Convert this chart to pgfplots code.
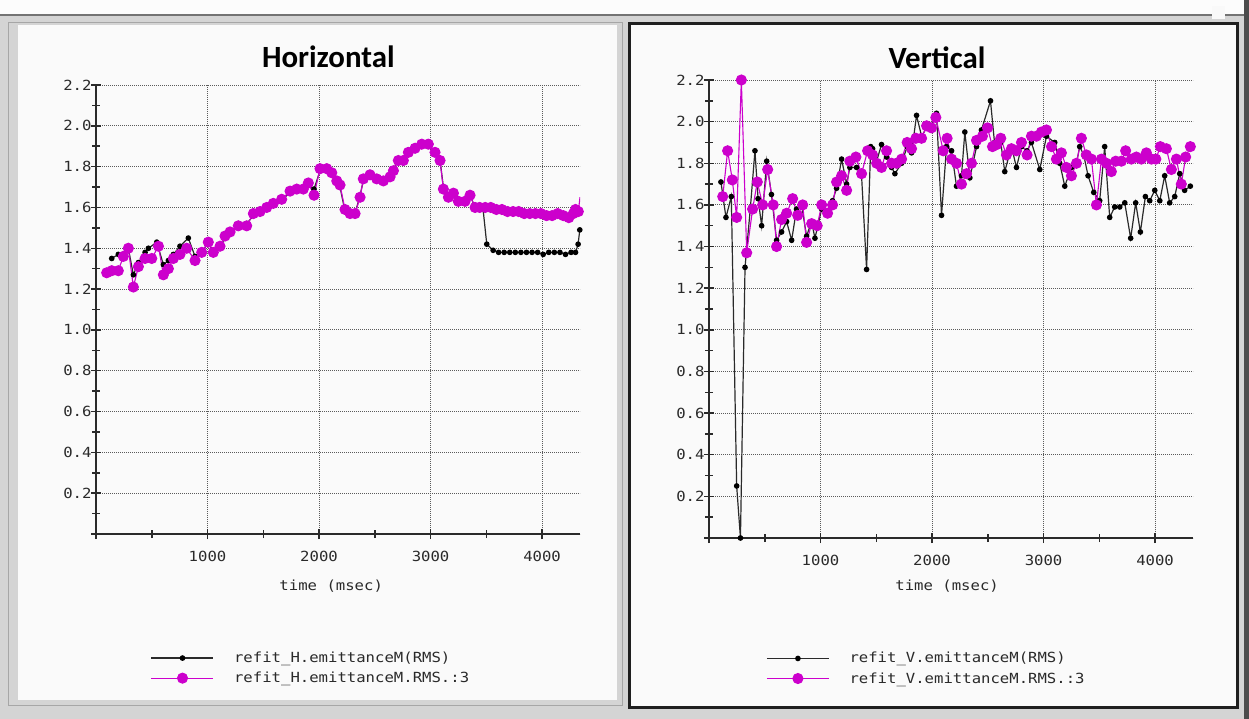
\documentclass[border=0pt]{standalone}
\usepackage{fontspec}
\setmainfont{Carlito}
\newfontfamily\monofont{DejaVu Sans Mono}[FakeStretch=1.12]
\usepackage{pgfplots}
\usepackage{pgfplotstable}
\pgfplotsset{compat=1.18}

\definecolor{frame}{HTML}{D4D4D4}
\definecolor{mag}{HTML}{CC00CC}
\definecolor{ink}{HTML}{2A2A2A}
\definecolor{gridc}{HTML}{5A5A5A}

% Horizontal plane: raw emittance
\pgfplotstableread{
t e
141 1.35
200 1.37
245 1.37
290 1.40
335 1.27
380 1.33
440 1.38
470 1.40
545 1.43
604 1.32
649 1.34
694 1.37
753 1.41
828 1.45
888 1.36
948 1.39
1007 1.42
1052 1.39
1112 1.41
1157 1.45
1202 1.48
1276 1.50
1351 1.52
1411 1.56
1471 1.58
1531 1.60
1590 1.62
1665 1.64
1740 1.67
1800 1.69
1859 1.70
1904 1.71
1955 1.69
2009 1.78
2069 1.79
2114 1.77
2159 1.72
2188 1.70
2233 1.58
2278 1.57
2323 1.57
2368 1.66
2397 1.73
2457 1.75
2517 1.73
2577 1.73
2637 1.76
2667 1.79
2711 1.83
2756 1.84
2801 1.87
2861 1.89
2921 1.90
2980 1.91
3040 1.87
3085 1.83
3115 1.70
3160 1.65
3205 1.67
3249 1.63
3309 1.63
3354 1.66
3399 1.60
3440 1.60
3471 1.59
3504 1.42
3561 1.39
3610 1.38
3660 1.38
3710 1.38
3760 1.38
3810 1.38
3860 1.38
3910 1.38
3960 1.38
4010 1.37
4060 1.38
4110 1.38
4160 1.38
4210 1.37
4260 1.38
4300 1.38
4323 1.42
4338 1.49
}\hraw

% Horizontal plane: smoothed emittance
\pgfplotstableread{
t e
96 1.28
141 1.29
200 1.29
245 1.36
290 1.40
335 1.21
380 1.31
440 1.35
500 1.35
560 1.41
604 1.27
649 1.30
694 1.35
753 1.37
813 1.40
888 1.34
948 1.38
1007 1.43
1052 1.38
1112 1.41
1157 1.46
1202 1.48
1276 1.51
1351 1.51
1411 1.57
1471 1.58
1531 1.60
1590 1.62
1665 1.64
1740 1.68
1800 1.69
1859 1.69
1904 1.72
1955 1.66
2009 1.79
2069 1.79
2114 1.77
2159 1.73
2188 1.71
2233 1.59
2278 1.57
2323 1.57
2368 1.65
2397 1.74
2457 1.76
2517 1.74
2577 1.73
2637 1.75
2667 1.78
2711 1.83
2756 1.83
2801 1.87
2861 1.89
2921 1.91
2980 1.91
3040 1.87
3085 1.83
3115 1.69
3160 1.65
3205 1.67
3249 1.63
3309 1.63
3354 1.66
3399 1.60
3440 1.60
3490 1.60
3540 1.60
3590 1.59
3640 1.59
3690 1.58
3740 1.58
3790 1.58
3840 1.57
3890 1.57
3940 1.57
3990 1.57
4040 1.56
4090 1.56
4140 1.57
4190 1.56
4240 1.55
4280 1.57
4300 1.59
4325 1.58
}\hfit

% Vertical plane: raw emittance
\pgfplotstableread{
t e
107 1.71
152 1.54
200 1.64
248 0.25
282 0.00
323 1.30
370 1.58
412 1.86
440 1.63
472 1.50
517 1.81
560 1.65
606 1.43
651 1.47
696 1.52
741 1.43
785 1.58
830 1.60
875 1.45
920 1.52
950 1.44
1010 1.58
1063 1.57
1108 1.62
1144 1.68
1189 1.82
1234 1.70
1263 1.78
1323 1.78
1368 1.74
1413 1.29
1450 1.88
1467 1.87
1503 1.81
1547 1.89
1592 1.83
1637 1.78
1667 1.75
1727 1.80
1777 1.88
1816 1.85
1861 2.03
1906 1.93
1951 1.97
1995 1.98
2040 2.04
2085 1.55
2130 1.88
2175 1.86
2219 1.69
2264 1.74
2294 1.95
2339 1.73
2399 1.88
2443 1.96
2524 2.10
2560 1.90
2616 1.90
2652 1.76
2712 1.88
2757 1.78
2802 1.88
2852 1.86
2891 1.90
2966 1.77
3026 1.93
3100 1.90
3145 1.80
3190 1.69
3250 1.78
3295 1.80
3324 1.88
3360 1.84
3399 1.74
3450 1.66
3503 1.62
3548 1.88
3593 1.54
3638 1.59
3683 1.59
3728 1.61
3781 1.44
3826 1.61
3868 1.47
3913 1.64
3952 1.62
3997 1.67
4042 1.62
4086 1.74
4131 1.61
4176 1.64
4221 1.75
4265 1.67
4316 1.69
}\vraw

% Vertical plane: smoothed emittance
\pgfplotstableread{
t e
123 1.64
167 1.86
209 1.72
248 1.54
290 2.20
338 1.37
391 1.58
433 1.71
481 1.60
526 1.77
576 1.60
606 1.40
651 1.53
696 1.56
750 1.63
795 1.55
840 1.60
875 1.42
920 1.51
970 1.50
1010 1.60
1063 1.56
1108 1.60
1144 1.71
1189 1.74
1234 1.67
1263 1.81
1317 1.83
1368 1.75
1422 1.86
1467 1.84
1503 1.80
1547 1.78
1592 1.86
1637 1.80
1682 1.80
1727 1.82
1777 1.90
1816 1.87
1855 1.92
1906 1.92
1951 1.98
1995 1.97
2034 2.02
2100 1.86
2135 1.92
2175 1.82
2219 1.80
2264 1.70
2309 1.75
2354 1.80
2399 1.91
2452 1.93
2497 1.97
2542 1.88
2580 1.89
2616 1.92
2667 1.84
2712 1.87
2757 1.86
2802 1.90
2852 1.84
2891 1.93
2936 1.93
2981 1.95
3026 1.96
3071 1.88
3115 1.82
3160 1.85
3205 1.78
3250 1.74
3295 1.80
3339 1.92
3384 1.84
3429 1.82
3474 1.60
3519 1.82
3564 1.80
3608 1.76
3647 1.81
3698 1.81
3736 1.86
3787 1.82
3832 1.83
3877 1.82
3922 1.85
3967 1.82
4007 1.82
4047 1.88
4101 1.87
4146 1.77
4191 1.82
4235 1.70
4274 1.83
4316 1.88
}\vfit

\pgfplotsset{
  emit/.style={
    scale only axis, width=484bp,
    xmin=0, xmax=4340, ymin=0, ymax=2.2,
    axis x line=bottom, axis y line=left,
    axis line style={ink, line width=2bp, -},
    xtick={0,1000,2000,3000,4000},
    xticklabels={,1000,2000,3000,4000},
    ytick={0,0.2,0.4,0.6,0.8,1.0,1.2,1.4,1.6,1.8,2.0,2.2},
    yticklabels={,0.2,0.4,0.6,0.8,1.0,1.2,1.4,1.6,1.8,2.0,2.2},
    minor x tick num=1, minor y tick num=1,
    tick align=center, major tick length=10bp, minor tick length=8bp,
    every tick/.style={ink, line width=1.5bp},
    grid=major,
    major grid style={gridc, line width=0.9bp, dash pattern=on 1bp off 1bp},
    tick label style={font=\monofont\fontsize{14}{14}\selectfont, text=ink},
    xticklabel style={yshift=-9bp},
    yticklabel style={xshift=4bp},
    xlabel={time (msec)},
    xlabel style={font=\monofont\fontsize{14}{14}\selectfont, text=ink, anchor=center},
    title style={font=\bfseries\fontsize{31}{31}\selectfont, anchor=center},
    legend style={draw=none, fill=none, anchor=north west,
      font=\monofont\fontsize{14}{14}\selectfont, text=ink,
      row sep=4bp, inner sep=0pt,
      /tikz/every odd column/.append style={column sep=18bp}},
    legend cell align=left,
    legend image code/.code={\draw[mark repeat=2,mark phase=2,##1]
      plot coordinates {(0bp,0bp)(31bp,0bp)(62bp,0bp)};},
  },
  rawline/.style={ink, line width=1.2bp, mark=*, mark size=2.2bp,
    mark options={fill=black, draw=black, solid}},
  fitline/.style={mag, line width=1.1bp, mark=*, mark size=5bp,
    mark options={fill=mag, draw=mag, solid}},
}

\begin{document}
\begin{tikzpicture}
% window background and the two panels
\fill[frame] (0bp,0bp) rectangle (1249bp,719bp);
\fill[white!93!frame] (0bp,704bp) rectangle (1249bp,719bp);
\draw[black!55, line width=1.2bp] (0bp,704bp) -- (1249bp,704bp);
\fill[black!70] (1244bp,0bp) rectangle (1249bp,719bp);
\fill[white!85!frame] (1212bp,700bp) rectangle (1225bp,713bp);
\draw[black!35] (8bp,14bp) rectangle (622bp,697bp);
\fill[white!98!black] (18bp,19bp) rectangle (617bp,694bp);
\fill[white!98!black] (630bp,12bp) rectangle (1237bp,695bp);
\draw[black!88, line width=3bp] (629.5bp,11.5bp) rectangle (1237.5bp,695.5bp);

% Horizontal plane
\begin{axis}[emit, at={(96bp,185bp)}, anchor=south west, height=449bp,
  title={Horizontal}, title style={at={(0.480,1)}, yshift=22bp},
  xlabel style={at={(0.486,0)}, yshift=-52bp},
  legend style={at={(0.113,-0.258)}}]
\addplot[rawline] table[x=t, y=e] {\hraw};
\addlegendentry{refit\_H.emittanceM(RMS)}
\addplot[fitline] table[x=t, y=e] {\hfit};
\addlegendentry{refit\_H.emittanceM.RMS.:3}
\addplot[mag, line width=1.1bp, forget plot] coordinates {(4325,1.58) (4340,1.65)};
\end{axis}

% Vertical plane
\begin{axis}[emit, at={(709bp,181bp)}, anchor=south west, height=458bp,
  title={Vertical}, title style={at={(0.471,1)}, yshift=16bp},
  xlabel style={at={(0.492,0)}, yshift=-48bp},
  legend style={at={(0.118,-0.245)}}]
\addplot[rawline] table[x=t, y=e] {\vraw};
\addlegendentry{refit\_V.emittanceM(RMS)}
\addplot[fitline] table[x=t, y=e] {\vfit};
\addlegendentry{refit\_V.emittanceM.RMS.:3}
\end{axis}

\pgfresetboundingbox
\path (0bp,0bp) rectangle (1249bp,719bp);
\end{tikzpicture}
\end{document}
